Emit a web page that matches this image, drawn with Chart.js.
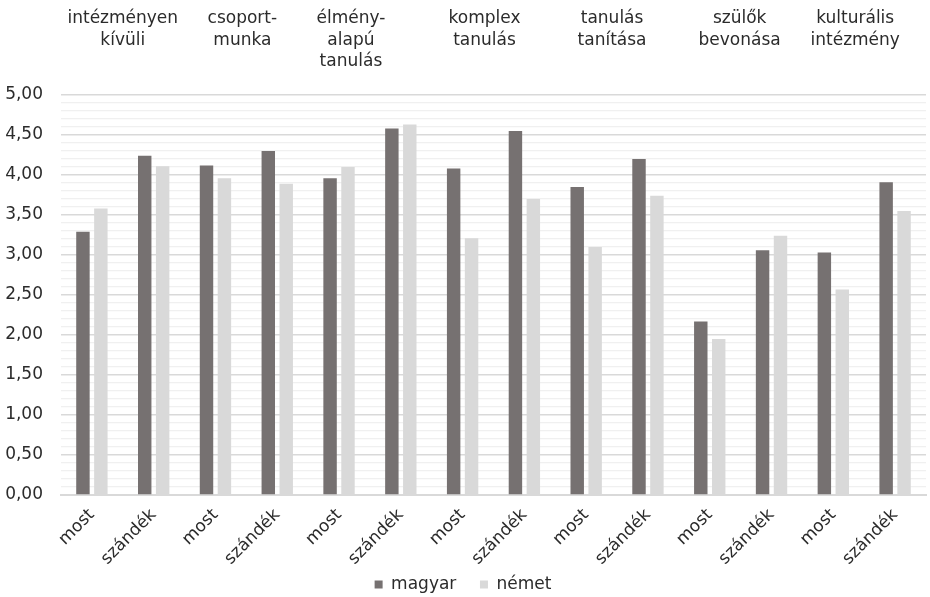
<!DOCTYPE html>
<html>
<head>
<meta charset="utf-8">
<script src="https://cdn.jsdelivr.net/npm/chart.js@4"></script>
<style>
  html, body { margin: 0; padding: 0; background: #fff; }
  #wrap { width: 930px; height: 597px; }
</style>
</head>
<body>
<div id="wrap"><canvas id="chart" width="930" height="597"></canvas></div>
<script>
// Categories (two per group: now / intention)
const categories = ["most", "szándék", "most", "szándék", "most", "szándék", "most", "szándék",
  "most", "szándék", "most", "szándék", "most", "szándék"];

// Group titles written above each pair of categories
const groupTitles = [
  ["intézményen", "kívüli"],
  ["csoport-", "munka"],
  ["élmény-", "alapú", "tanulás"],
  ["komplex", "tanulás"],
  ["tanulás", "tanítása"],
  ["szülők", "bevonása"],
  ["kulturális", "intézmény"]
];

// Series values
const magyar = [3.29, 4.24, 4.12, 4.30, 3.96, 4.58, 4.08, 4.55, 3.85, 4.20, 2.17, 3.06, 3.03, 3.91];
const nemet = [3.58, 4.11, 3.96, 3.89, 4.10, 4.63, 3.21, 3.70, 3.10, 3.74, 1.95, 3.24, 2.57, 3.55];

// y axis range
const yMin = 0;
const yMax = 5;

const FONT = "'DejaVu Sans', sans-serif";
const TEXT = "#2b2b2b";

// nudges for the group titles (they are hand-placed text boxes in the original)
const titleShift = [0, -4, -19, -9, -5, -1, -9];

// Draw the group titles above the plot
const groupTitlePlugin = {
  id: "groupTitles",
  afterDraw(chart) {
    const ctx = chart.ctx;
    const x = chart.scales.x;
    ctx.save();
    ctx.font = "17px " + FONT;
    ctx.fillStyle = TEXT;
    ctx.textAlign = "center";
    ctx.textBaseline = "middle";
    groupTitles.forEach(function (lines, i) {
      const cx = (x.getPixelForValue(i * 2) + x.getPixelForValue(i * 2 + 1)) / 2 + titleShift[i];
      lines.forEach(function (line, j) {
        ctx.fillText(line, cx, 19 + j * 21.5);
      });
    });
    ctx.restore();
  }
};

document.addEventListener("DOMContentLoaded", function () {
  const ctx = document.getElementById("chart").getContext("2d");

  new Chart(ctx, {
    type: "bar",
    data: {
      labels: categories,
      datasets: [
        {
          label: "magyar",
          data: magyar,
          backgroundColor: "#767171",
          categoryPercentage: 0.58,
          barPercentage: 0.75
        },
        {
          label: "német",
          data: nemet,
          backgroundColor: "#d9d9d9",
          categoryPercentage: 0.58,
          barPercentage: 0.75
        }
      ]
    },
    options: {
      responsive: false,
      animation: false,
      layout: {
        padding: { top: 95, right: 4, left: 0, bottom: -6 }
      },
      plugins: {
        legend: {
          position: "bottom",
          labels: {
            font: { family: FONT, size: 17 },
            color: TEXT,
            boxWidth: 8,
            boxHeight: 8,
            padding: 2,
            // extra room between the two entries
            generateLabels: function (chart) {
              const items = Chart.defaults.plugins.legend.labels.generateLabels(chart);
              items.forEach(function (it, i) {
                if (i < items.length - 1) it.text = it.text + "    ";
              });
              return items;
            }
          }
        },
        tooltip: { enabled: false }
      },
      scales: {
        x: {
          grid: { display: false },
          border: { color: "#d9d9d9", width: 2 },
          afterFit: function (scale) { scale.height = 79; },
          ticks: {
            font: { family: FONT, size: 17 },
            color: TEXT,
            padding: 2,
            maxRotation: 45,
            minRotation: 45,
            autoSkip: false
          }
        },
        y: {
          min: yMin,
          max: yMax,
          border: { display: false },
          afterFit: function (scale) { scale.width = 61; },
          grid: {
            drawTicks: false,
            color: function (c) {
              const v = Math.round(c.tick.value * 10);
              return v % 5 === 0 ? "#d9d9d9" : "#f0f0f0";
            },
            lineWidth: function (c) {
              const v = Math.round(c.tick.value * 10);
              return v % 5 === 0 ? 1.5 : 1.2;
            }
          },
          ticks: {
            stepSize: 0.1,
            autoSkip: false,
            padding: 18,
            font: { family: FONT, size: 17 },
            color: TEXT,
            callback: function (value) {
              const v = Math.round(value * 10);
              return v % 5 === 0 ? (v / 10).toFixed(2).replace(".", ",") : "";
            }
          }
        }
      }
    },
    plugins: [groupTitlePlugin]
  });
});
</script>
</body>
</html>
